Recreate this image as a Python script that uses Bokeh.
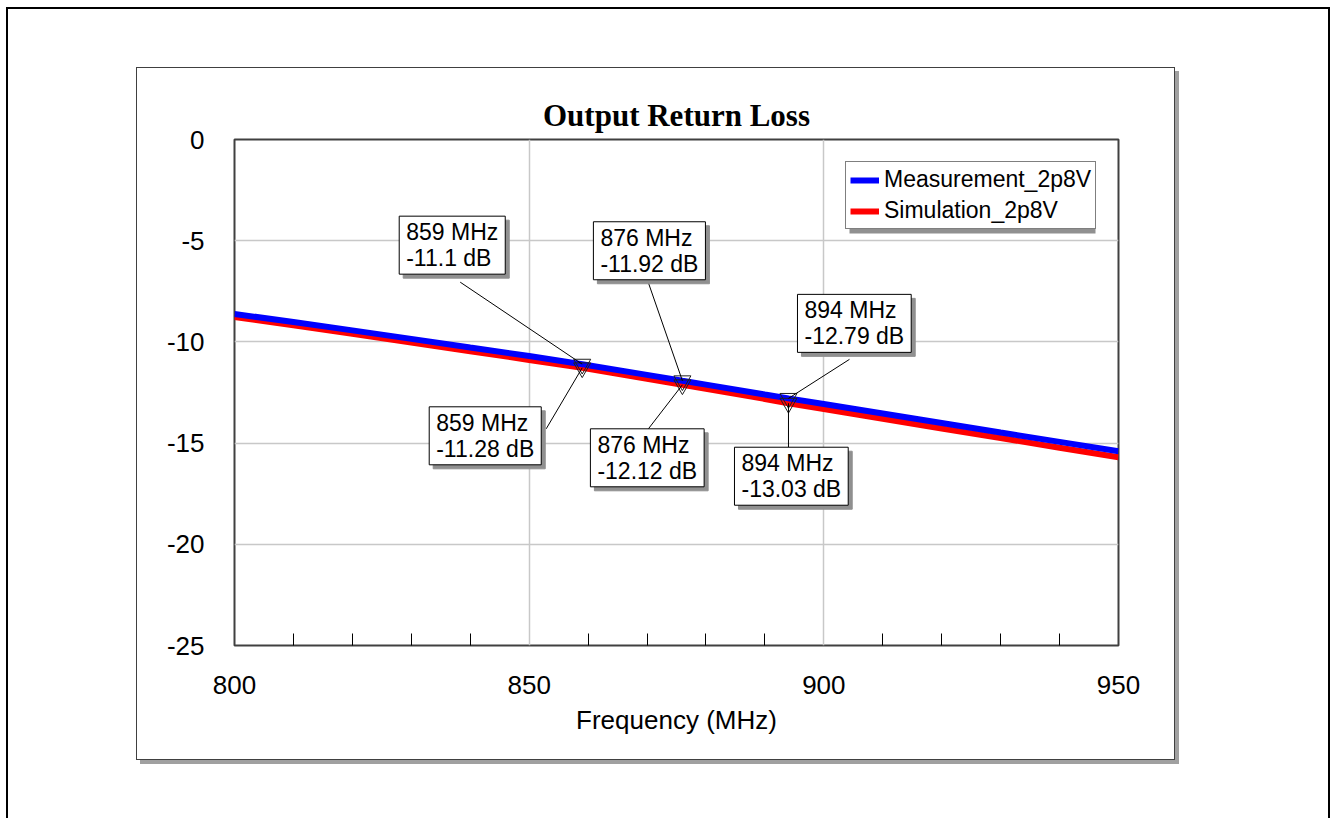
from bokeh.plotting import figure
from bokeh.models import (Range1d, FixedTicker, Label, Legend, LegendItem,
                          BoxAnnotation, CustomJSTickFormatter)
from bokeh.layouts import column
from bokeh.embed import file_html
from bokeh.resources import INLINE

# ---------------- data ----------------
freq = [800, 810, 820, 830, 840, 850, 859, 860, 870, 876, 880, 890, 894,
        900, 910, 920, 930, 940, 950]
measurement = [-8.62, -9.02, -9.43, -9.85, -10.28, -10.70, -11.10, -11.15,
               -11.63, -11.92, -12.11, -12.60, -12.79, -13.07, -13.54,
               -14.01, -14.48, -14.94, -15.40]
simulation = [-8.77, -9.18, -9.60, -10.03, -10.46, -10.89, -11.28, -11.33,
              -11.82, -12.12, -12.32, -12.82, -13.03, -13.32, -13.80,
              -14.28, -14.75, -15.23, -15.70]

marker_freq = [859, 876, 894]
marker_meas = [-11.1, -11.92, -12.79]
marker_sim = [-11.28, -12.12, -13.03]
meas_texts = ["859 MHz\n-11.1 dB", "876 MHz\n-11.92 dB", "894 MHz\n-12.79 dB"]
sim_texts = ["859 MHz\n-11.28 dB", "876 MHz\n-12.12 dB", "894 MHz\n-13.03 dB"]

x_major = [800, 850, 900, 950]
x_minor = [810, 820, 830, 840, 860, 870, 880, 890, 910, 920, 930, 940]
y_major = [0, -5, -10, -15, -20, -25]
series_names = ["Measurement_2p8V", "Simulation_2p8V"]
title_text = "Output Return Loss"
x_title = "Frequency (MHz)"

# ---------------- layout / style constants ----------------
FIG_W, FIG_H = 1039, 693
MB_L, MB_R, MB_T, MB_B = 97, 58, 71, 116
FRAME_W = FIG_W - MB_L - MB_R
FRAME_H = FIG_H - MB_T - MB_B
X0, X1 = 800, 950
Y0, Y1 = -25, 0
PX_X = FRAME_W / (X1 - X0)
PX_Y = FRAME_H / (Y1 - Y0)

SANS = "Liberation Sans"

# box offsets (pixels, relative to marker; dy positive = downwards)
meas_box = [(-183, -148), (-89, -159), (9, -104)]
sim_box = [(-153, 39), (-92, 44), (-54, 44)]
meas_lead = [(-122, -82), (-34, -98), (61, -39)]
sim_lead = [(-36, 61), (-34, 44), (0, 44)]

p = figure(width=FIG_W, height=FIG_H, output_backend="svg", toolbar_location=None,
           x_range=Range1d(X0, X1), y_range=Range1d(Y0, Y1),
           min_border_left=MB_L, min_border_right=MB_R,
           min_border_top=MB_T, min_border_bottom=MB_B)
p.styles = {"border": "1px solid #404040", "box-shadow": "4px 4px 0 #a0a0a0"}
p.background_fill_color = "white"
p.border_fill_color = "white"
p.outline_line_color = "#404040"
p.outline_line_width = 2

p.title.text = title_text
p.title.align = "center"
p.title.text_font = "Liberation Serif"
p.title.text_font_style = "bold"
p.title.text_font_size = "31px"
p.title.text_color = "black"
p.title.standoff = 13

plain = CustomJSTickFormatter(code="return tick.toString()")

# axes
xa = p.xaxis[0]
xa.ticker = FixedTicker(ticks=x_major, minor_ticks=x_minor)
xa.formatter = plain
xa.axis_line_color = None
xa.major_tick_line_color = None
xa.minor_tick_line_color = "black"
xa.minor_tick_in = 12
xa.minor_tick_out = 0
xa.major_label_text_font = SANS
xa.major_label_text_font_size = "26px"
xa.major_label_text_color = "black"
xa.major_label_standoff = 24
xa.axis_label = x_title
xa.axis_label_text_font = SANS
xa.axis_label_text_font_size = "26px"
xa.axis_label_text_font_style = "normal"
xa.axis_label_text_color = "black"
xa.axis_label_standoff = 8

ya = p.yaxis[0]
ya.ticker = FixedTicker(ticks=y_major)
ya.formatter = plain
ya.axis_line_color = None
ya.major_tick_line_color = None
ya.minor_tick_line_color = None
ya.major_label_text_font = SANS
ya.major_label_text_font_size = "26px"
ya.major_label_text_color = "black"
ya.major_label_standoff = 24

p.xgrid[0].ticker = FixedTicker(ticks=x_major)
p.ygrid[0].ticker = FixedTicker(ticks=y_major)
p.xgrid.grid_line_color = "#c8c8c8"
p.ygrid.grid_line_color = "#c8c8c8"
p.xgrid.grid_line_width = 1.5
p.ygrid.grid_line_width = 1.5

# series
r_sim = p.line(freq, simulation, line_color="#ff0000", line_width=6)
r_meas = p.line(freq, measurement, line_color="#0000ff", line_width=6)

# markers
p.scatter(marker_freq, marker_meas, marker="inverted_triangle", size=17,
          fill_color=None, line_color="#202020", line_width=1)
p.scatter(marker_freq, marker_sim, marker="inverted_triangle", size=17,
          fill_color=None, line_color="#202020", line_width=1)

# leader lines
lx0, ly0, lx1, ly1 = [], [], [], []
for fs, vs, leads in ((marker_freq, marker_meas, meas_lead), (marker_freq, marker_sim, sim_lead)):
    for f, v, (dx, dy) in zip(fs, vs, leads):
        lx0.append(f + dx / PX_X)
        ly0.append(v - dy / PX_Y)
        lx1.append(f)
        ly1.append(v)
p.segment(lx0, ly0, lx1, ly1, line_color="black", line_width=1)

# marker labels
def add_box(f, v, txt, dx, dy):
    bx = f + dx / PX_X
    by = v - dy / PX_Y
    common = dict(x=bx, y=by, text=txt, anchor="top_left", text_align="left",
                  text_font=SANS, text_font_size="23px", text_line_height=1.0,
                  padding=(7, 3), border_line_width=1)
    shadow = Label(x_offset=4, y_offset=-4, text_color="#909090",
                   background_fill_color="#909090", border_line_color="#909090",
                   **common)
    main = Label(text_color="black", background_fill_color="white",
                 border_line_color="black", **common)
    p.add_layout(shadow)
    p.add_layout(main)

for f, v, t, (dx, dy) in zip(marker_freq, marker_meas, meas_texts, meas_box):
    add_box(f, v, t, dx, dy)
for f, v, t, (dx, dy) in zip(marker_freq, marker_sim, sim_texts, sim_box):
    add_box(f, v, t, dx, dy)

# legend with shadow
LEG_X, LEG_Y, LEG_W, LEG_H = 611, 416, 246, 69
shadow_box = BoxAnnotation(left=X0 + (LEG_X + 4) / PX_X,
                           right=X0 + (LEG_X + 4 + LEG_W) / PX_X,
                           bottom=Y0 + (LEG_Y - 4) / PX_Y,
                           top=Y0 + (LEG_Y - 4 + LEG_H) / PX_Y,
                           fill_color="#909090", fill_alpha=1.0,
                           line_color=None)
p.add_layout(shadow_box)

legend = Legend(items=[LegendItem(label=series_names[0], renderers=[r_meas]),
                       LegendItem(label=series_names[1], renderers=[r_sim])],
                location=(LEG_X, LEG_Y), margin=0, padding=4, spacing=4,
                glyph_width=29, glyph_height=20, label_height=27,
                label_standoff=5,
                label_text_font=SANS, label_text_font_size="23px",
                label_text_color="black",
                border_line_color="black", border_line_width=1,
                background_fill_color="white", background_fill_alpha=1.0)
p.add_layout(legend)

outer = column(p, styles={"border": "2px solid black",
                          "border-bottom": "none",
                          "margin": "7px 0 0 6px",
                          "padding": "58px 153px 58px 128px",
                          "background-color": "white"})

open("out.html", "w").write(file_html(outer, INLINE))
